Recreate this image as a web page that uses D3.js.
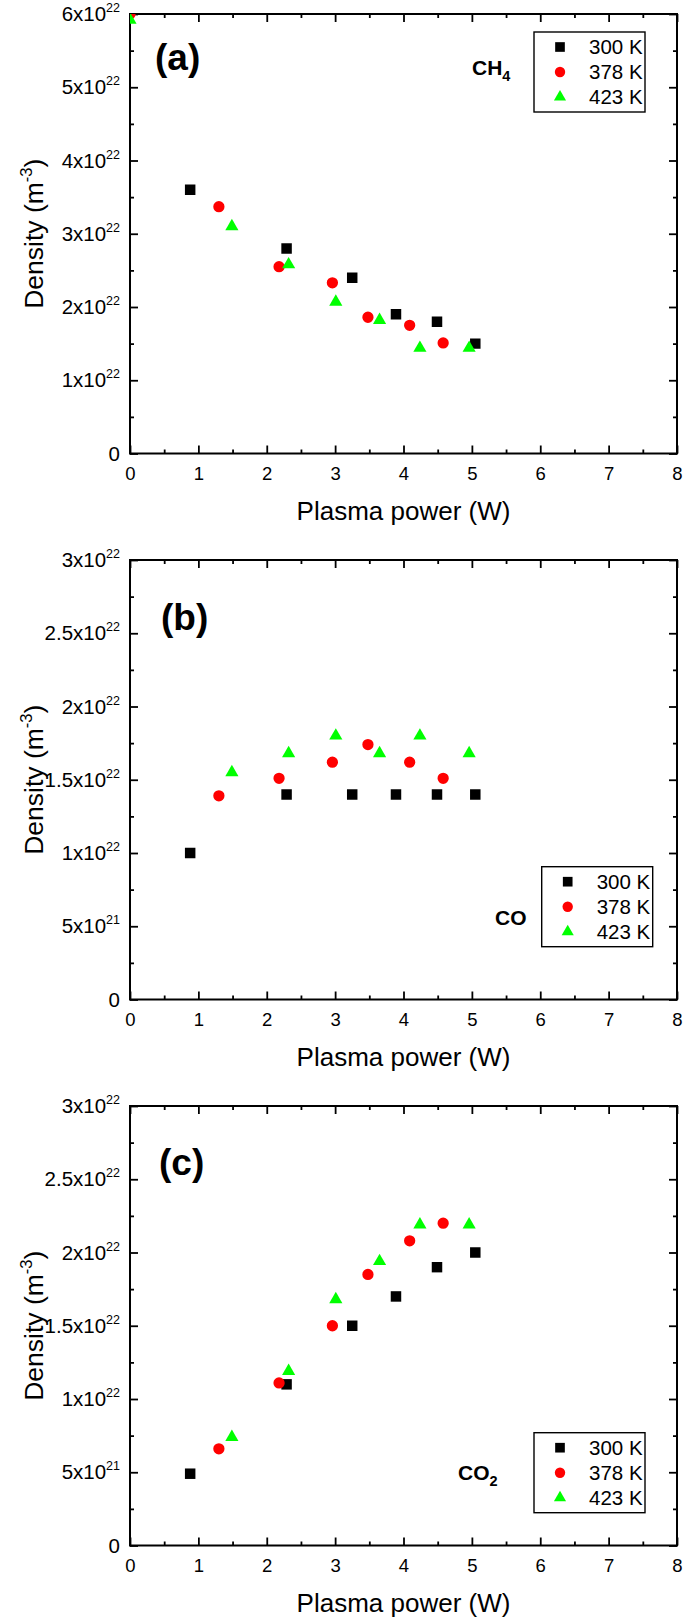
<html>
<head>
<script src="https://d3js.org/d3.v7.min.js"></script>
<style>
    body { margin: 0; background: #fff; }
    svg text { font-family: "Liberation Sans", Arial, sans-serif; fill: #000; }
    .tick line { stroke: #000; stroke-width: 1.8px; }
    .frame { fill: none; stroke: #000; stroke-width: 2px; }
    .legend-box { fill: #fff; stroke: #000; stroke-width: 1.4px; }
</style>
</head>
<body>
<script>
// series / categories
var temps = ["300 K", "378 K", "423 K"];
var colors = ["#000000", "#ff0000", "#00ff00"];

// plasma power (W) per temperature series
var power300 = [0.88, 2.29, 3.25, 3.89, 4.49, 5.05];
var power378 = [1.30, 2.18, 2.96, 3.48, 4.09, 4.58];
var power423 = [1.49, 2.32, 3.01, 3.65, 4.24, 4.96];

// densities, in units of 1e22 m^-3
var ch4_300 = [3.60, 2.80, 2.40, 1.90, 1.80, 1.50];
var ch4_378 = [3.37, 2.55, 2.33, 1.86, 1.75, 1.51];
var ch4_423 = [3.10, 2.58, 2.07, 1.82, 1.44, 1.44];
// two stray points sitting on the top-left corner of panel (a): 378 K, 423 K
var ch4CornerPower = [0, 0];
var ch4CornerDensity = [6.0, 5.92];

var co_300 = [1.00, 1.40, 1.40, 1.40, 1.40, 1.40];
var co_378 = [1.39, 1.51, 1.62, 1.74, 1.62, 1.51];
var co_423 = [1.55, 1.68, 1.80, 1.68, 1.80, 1.68];

var co2_300 = [0.49, 1.10, 1.50, 1.70, 1.90, 2.00];
var co2_378 = [0.66, 1.11, 1.50, 1.85, 2.08, 2.20];
var co2_423 = [0.74, 1.19, 1.68, 1.94, 2.19, 2.19];

// ticks
var xTicks = [0, 1, 2, 3, 4, 5, 6, 7, 8];
var yTicksA = [0, 1, 2, 3, 4, 5, 6];
var yLabelsA = ["0", "1x10^22", "2x10^22", "3x10^22", "4x10^22", "5x10^22", "6x10^22"];
var yTicksBC = [0, 0.5, 1, 1.5, 2, 2.5, 3];
var yLabelsBC = ["0", "5x10^21", "1x10^22", "1.5x10^22", "2x10^22", "2.5x10^22", "3x10^22"];

var margin = {left: 130, right: 8},
    width = 685 - margin.left - margin.right,
    height = 439.5;

var svg = d3.select("body").append("svg")
    .attr("width", 685)
    .attr("height", 1620);

var shapes = [d3.symbolSquare, d3.symbolCircle, d3.symbolTriangle];
var sizes = [110, 100, 75];

function mids(t) {
    return d3.range(t.length - 1).map(function(i) { return (t[i] + t[i + 1]) / 2; });
}

function zip(xs, ys, s) {
    return xs.map(function(v, i) { return {x: v, y: ys[i], s: s}; });
}

var panels = [
    {id: "a", top: 14, yTicks: yTicksA, yLabels: yLabelsA, yMax: 6,
     data: [].concat(zip(power300, ch4_300, 0), zip(power378, ch4_378, 1), zip(power423, ch4_423, 2),
                     [{x: ch4CornerPower[0], y: ch4CornerDensity[0], s: 1},
                      {x: ch4CornerPower[1], y: ch4CornerDensity[1], s: 2}]),
     tag: {x: 25, y: 56}, gas: ["CH", "4"], gasPos: {x: 342, y: 61},
     legend: {x: 404, y: 18}},
    {id: "b", top: 560, yTicks: yTicksBC, yLabels: yLabelsBC, yMax: 3,
     data: [].concat(zip(power300, co_300, 0), zip(power378, co_378, 1), zip(power423, co_423, 2)),
     tag: {x: 31, y: 70}, gas: ["CO", ""], gasPos: {x: 365, y: 365},
     legend: {x: 411.7, y: 306.7}},
    {id: "c", top: 1106, yTicks: yTicksBC, yLabels: yLabelsBC, yMax: 3,
     data: [].concat(zip(power300, co2_300, 0), zip(power378, co2_378, 1), zip(power423, co2_423, 2)),
     tag: {x: 29, y: 69}, gas: ["CO", "2"], gasPos: {x: 328, y: 374},
     legend: {x: 404, y: 326.7}}
];

panels.forEach(function(p) {
    var x = d3.scaleLinear().domain([0, 8]).range([0, width]);
    var y = d3.scaleLinear().domain([0, p.yMax]).range([height, 0]);

    var g = svg.append("g")
        .attr("transform", "translate(" + margin.left + "," + p.top + ")");

    // minor ticks
    var xMinor = mids(xTicks), yMinor = mids(p.yTicks);
    g.append("g").attr("transform", "translate(0," + height + ")")
        .call(d3.axisBottom(x).tickValues(xMinor).tickSize(-4).tickFormat(""));
    g.append("g")
        .call(d3.axisTop(x).tickValues(xMinor).tickSize(-4).tickFormat(""));
    g.append("g")
        .call(d3.axisLeft(y).tickValues(yMinor).tickSize(-4).tickFormat(""));
    g.append("g").attr("transform", "translate(" + width + ",0)")
        .call(d3.axisRight(y).tickValues(yMinor).tickSize(-4).tickFormat(""));

    // major ticks
    var xAxis = g.append("g").attr("transform", "translate(0," + height + ")")
        .call(d3.axisBottom(x).tickValues(xTicks).tickSize(-8).tickPadding(13));
    xAxis.selectAll("text").attr("font-size", 18.5).attr("font-family", null);
    g.append("g")
        .call(d3.axisTop(x).tickValues(xTicks).tickSize(-8).tickFormat(""));
    g.append("g")
        .call(d3.axisLeft(y).tickValues(p.yTicks).tickSize(-8).tickFormat(""));
    g.append("g").attr("transform", "translate(" + width + ",0)")
        .call(d3.axisRight(y).tickValues(p.yTicks).tickSize(-8).tickFormat(""));
    g.selectAll(".domain").remove();

    // y tick labels with superscript exponent
    p.yTicks.forEach(function(t, i) {
        var parts = p.yLabels[i].split("^");
        var txt = g.append("text")
            .attr("x", -10)
            .attr("y", y(t) + 7)
            .attr("text-anchor", "end");
        txt.append("tspan").attr("font-size", 20.5).text(parts[0]);
        if (parts[1]) {
            txt.append("tspan").attr("font-size", 12.5).attr("dy", -9).text(parts[1]);
        }
    });

    g.append("rect").attr("class", "frame")
        .attr("width", width).attr("height", height);

    // points
    g.append("clipPath").attr("id", "clip-" + p.id)
        .append("rect").attr("width", width).attr("height", height);

    g.append("g").attr("clip-path", "url(#clip-" + p.id + ")")
        .selectAll("path").data(p.data).enter().append("path")
        .attr("transform", function(d) { return "translate(" + x(d.x) + "," + y(d.y) + ")"; })
        .attr("d", function(d) { return d3.symbol().type(shapes[d.s]).size(sizes[d.s])(); })
        .attr("fill", function(d) { return colors[d.s]; });

    // panel tag
    g.append("text")
        .attr("x", p.tag.x).attr("y", p.tag.y)
        .attr("font-size", 37).attr("font-weight", "bold")
        .text("(" + p.id + ")");

    // gas label
    var gas = g.append("text")
        .attr("x", p.gasPos.x).attr("y", p.gasPos.y)
        .attr("font-size", 21).attr("font-weight", "bold");
    gas.append("tspan").text(p.gas[0]);
    if (p.gas[1]) {
        gas.append("tspan").attr("font-size", 14.5).attr("dy", 6).text(p.gas[1]);
    }

    // legend
    var lg = g.append("g").attr("transform", "translate(" + p.legend.x + "," + p.legend.y + ")");
    lg.append("rect").attr("class", "legend-box").attr("width", 111).attr("height", 80);
    temps.forEach(function(name, i) {
        var cy = 15 + i * 25;
        lg.append("path")
            .attr("transform", "translate(26," + cy + ")")
            .attr("d", d3.symbol().type(shapes[i]).size(sizes[i] * 0.85)())
            .attr("fill", colors[i]);
        lg.append("text")
            .attr("x", 55).attr("y", cy + 7)
            .attr("font-size", 20.5)
            .text(name);
    });

    // axis titles
    g.append("text")
        .attr("x", width / 2).attr("y", height + 66)
        .attr("text-anchor", "middle")
        .attr("font-size", 26)
        .text("Plasma power (W)");

    var yt = g.append("text")
        .attr("transform", "translate(" + (43 - margin.left) + "," + (height / 2) + ") rotate(-90)")
        .attr("text-anchor", "middle")
        .attr("font-size", 26.5);
    yt.append("tspan").text("Density (m");
    yt.append("tspan").attr("font-size", 16.5).attr("dy", -11).text("-3");
    yt.append("tspan").attr("dy", 11).text(")");
});
</script>
</body>
</html>
